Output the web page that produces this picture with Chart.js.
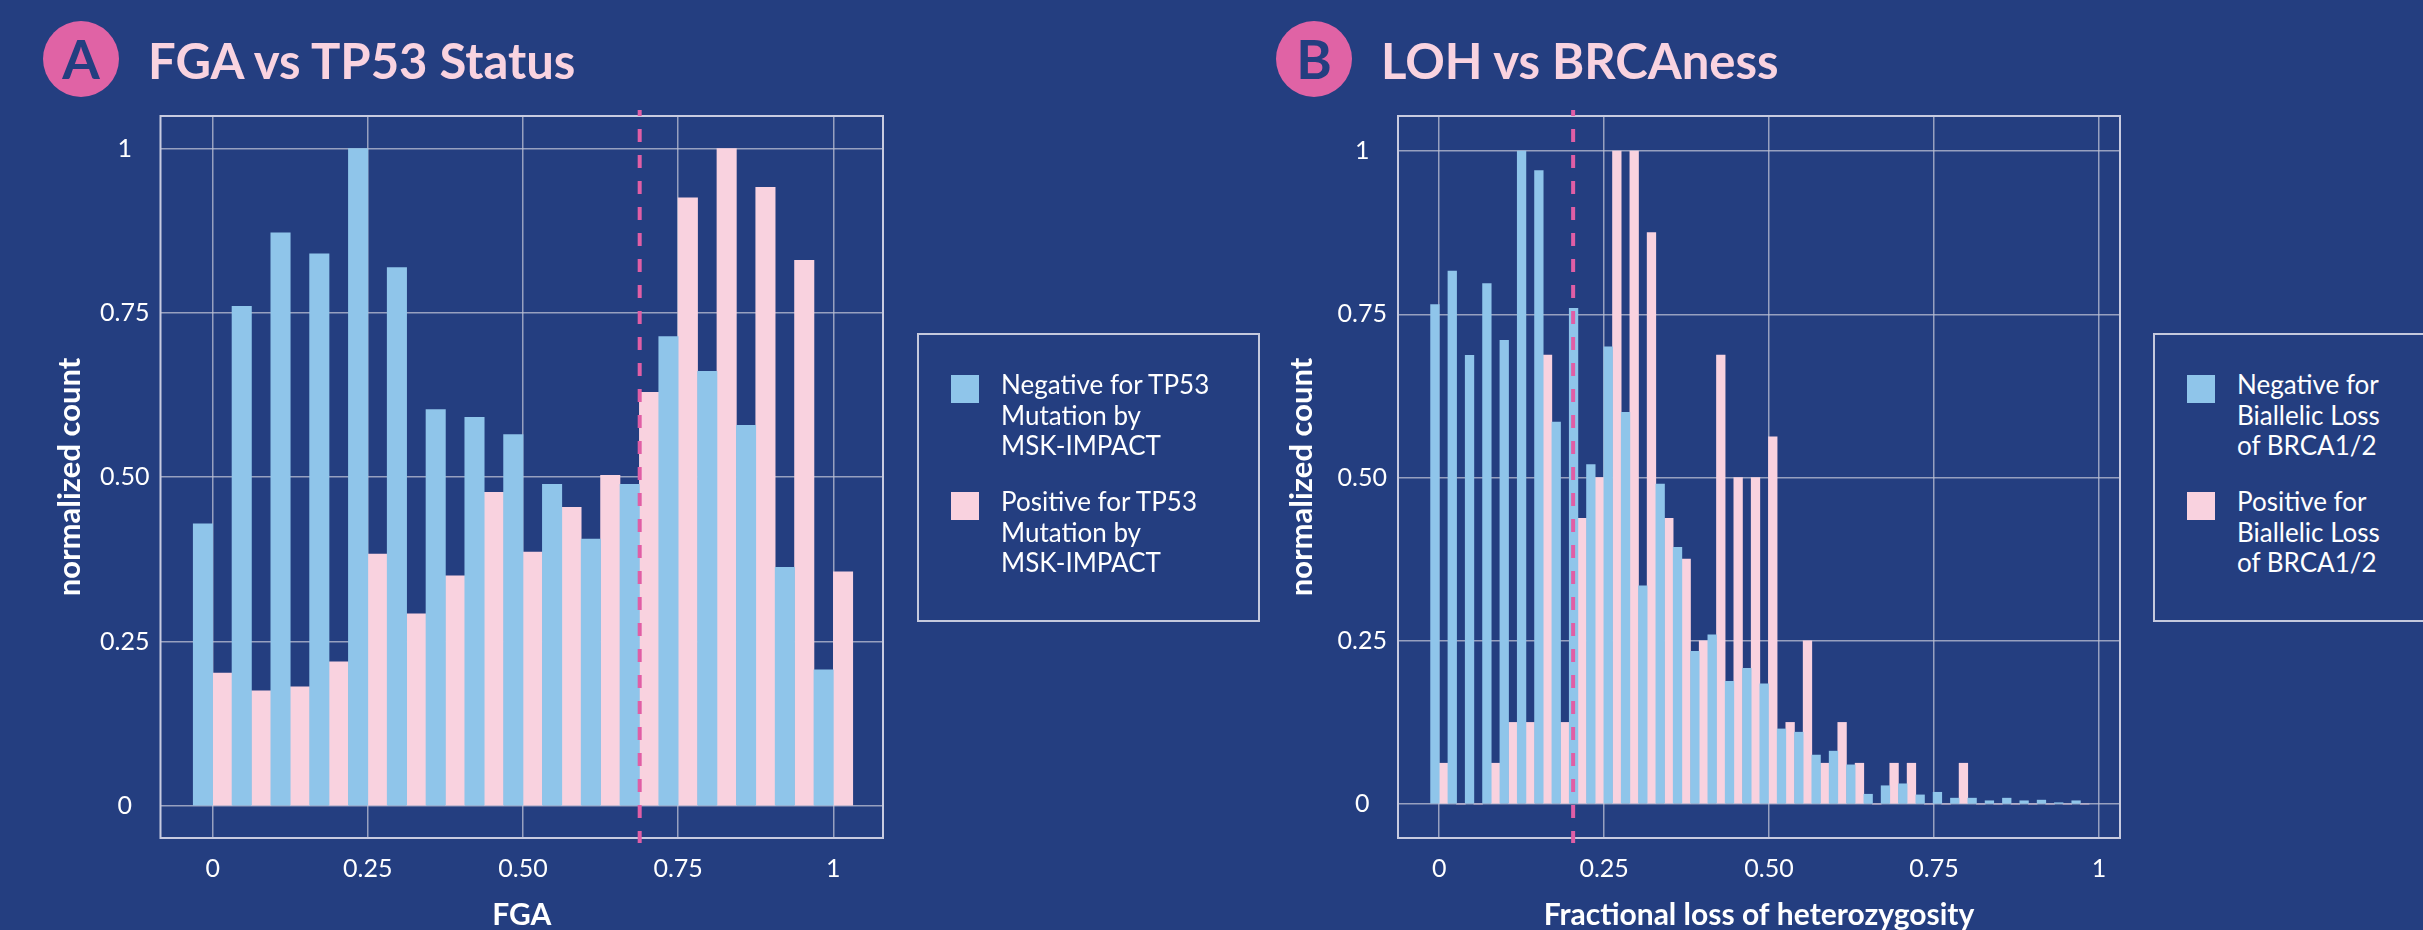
<!DOCTYPE html>
<html>
<head>
<meta charset="utf-8">
<title>FGA vs TP53 / LOH vs BRCAness</title>
<script src="https://cdn.jsdelivr.net/npm/chart.js@4.4.0/dist/chart.umd.min.js"></script>
<style>
  html, body { margin: 0; padding: 0; }
  body {
    width: 2423px; height: 930px; overflow: hidden; position: relative;
    background: #243e80; font-family: Lato, 'Open Sans', sans-serif;
  }
  .badge {
    position: absolute; top: 21px; width: 76px; height: 76px; border-radius: 50%;
    background: #e063a5; color: #243e80; font: 700 54px Lato, sans-serif;
    display: flex; align-items: center; justify-content: center; line-height: 1;
  }
  .panel-title {
    position: absolute; top: 36px; color: #f9d3e0; white-space: nowrap;
    font: 700 49px Lato, sans-serif; line-height: 48px;
  }
  .chart-box { position: absolute; top: 0; height: 930px; }
  .legend {
    position: absolute; top: 333px; height: 289px; box-sizing: border-box;
    border: 2px solid #c5c9dd;
  }
  .legend-swatch { position: absolute; width: 28px; height: 28px; }
  .legend-text {
    position: absolute; color: #fff; font: 400 26px Lato, sans-serif;
    line-height: 30.5px; white-space: nowrap;
  }
</style>
</head>
<body>

<div class="badge" style="left:43px">A</div>
<div class="panel-title" style="left:148px">FGA vs TP53 Status</div>
<div class="badge" style="left:1276px">B</div>
<div class="panel-title" style="left:1381px">LOH vs BRCAness</div>

<div class="chart-box" style="left:0;width:900px"><canvas id="chart-fga" width="900" height="930"></canvas></div>
<div class="chart-box" style="left:1230px;width:910px"><canvas id="chart-loh" width="910" height="930"></canvas></div>

<div class="legend" id="legend-fga" style="left:917px;width:343px"></div>
<div class="legend" id="legend-loh" style="left:2153px;width:320px"></div>

<script>
// ── Данные панели A: FGA vs статус TP53 ───────────────────────────
const fgaBins = [0, 0.0625, 0.125, 0.1875, 0.25, 0.3125, 0.375, 0.4375, 0.5,
                 0.5625, 0.625, 0.6875, 0.75, 0.8125, 0.875, 0.9375, 1];
const fgaNegative = [0.429, 0.760, 0.872, 0.840, 1.0, 0.819, 0.603, 0.591, 0.565,
                     0.489, 0.406, 0.489, 0.714, 0.661, 0.579, 0.363, 0.207];
const fgaPositive = [0.202, 0.175, 0.181, 0.219, 0.383, 0.292, 0.350, 0.477, 0.386,
                     0.454, 0.503, 0.629, 0.925, 1.0, 0.941, 0.830, 0.356];
const fgaThreshold = 0.688;
const fgaLabels = [
  ['Negative for TP53', 'Mutation by', 'MSK-IMPACT'],
  ['Positive for TP53', 'Mutation by', 'MSK-IMPACT'],
];

// ── Данные панели B: LOH vs BRCAness ─────────────────────────────
const lohBins = [0, 0.0263, 0.0525, 0.0788, 0.1051, 0.1314, 0.1576, 0.1839, 0.2102, 0.2364,
                 0.2627, 0.2890, 0.3152, 0.3415, 0.3678, 0.3941, 0.4203, 0.4466, 0.4729, 0.4991,
                 0.5254, 0.5517, 0.5779, 0.6042, 0.6305, 0.6568, 0.6830, 0.7093, 0.7356, 0.7618,
                 0.7881, 0.8144, 0.8406, 0.8669, 0.8932, 0.9195, 0.9457, 0.9720];
const lohNegative = [0.765, 0.816, 0.687, 0.797, 0.710, 1.0, 0.970, 0.585, 0.759, 0.520,
                     0.700, 0.600, 0.334, 0.490, 0.393, 0.234, 0.259, 0.188, 0.208, 0.184,
                     0.115, 0.110, 0.075, 0.081, 0.060, 0.015, 0.028, 0.031, 0.014, 0.018,
                     0.009, 0.009, 0.005, 0.009, 0.005, 0.006, 0.002, 0.005];
const lohPositive = [0.0625, 0, 0, 0.0625, 0.125, 0.125, 0.6875, 0.125, 0.4375, 0.5,
                     1.0, 1.0, 0.875, 0.4375, 0.375, 0.25, 0.6875, 0.5, 0.5, 0.5625,
                     0.125, 0.25, 0.0625, 0.125, 0.0625, 0, 0.0625, 0.0625, 0, 0,
                     0.0625, 0, 0, 0, 0, 0, 0, 0];
const lohThreshold = 0.203;
const lohLabels = [
  ['Negative for', 'Biallelic Loss', 'of BRCA1/2'],
  ['Positive for', 'Biallelic Loss', 'of BRCA1/2'],
];

// ── Общие деления осей ───────────────────────────────────────────
const xTickValues = [0, 0.25, 0.5, 0.75, 1];
const xTickLabels = ['0', '0.25', '0.50', '0.75', '1'];
const yTickValues = [0, 0.25, 0.5, 0.75, 1];
const yTickLabels = ['0', '0.25', '0.50', '0.75', '1'];

const COLOR_NEG  = '#8fc5ea';
const COLOR_POS  = '#f9d2df';
const COLOR_DASH = '#e05ea5';
const GRID_COLOR = 'rgba(190,194,212,0.75)';

Chart.defaults.font.family = 'Lato, sans-serif';

// ── Плагин: рамка области графика и пунктир порога ───────────────
const panelDecor = {
  id: 'panelDecor',
  beforeDatasetsDraw(chart) {
    const { ctx, chartArea: a } = chart;
    ctx.save();
    ctx.strokeStyle = '#c8cbe0';
    ctx.lineWidth = 2;
    ctx.strokeRect(a.left, a.top, a.right - a.left, a.bottom - a.top);
    ctx.restore();
  },
  afterDatasetsDraw(chart, args, opts) {
    const { ctx, chartArea: a } = chart;
    const x = chart.scales.x.getPixelForValue(opts.value);
    ctx.save();
    ctx.strokeStyle = COLOR_DASH;
    ctx.lineWidth = 4;
    ctx.setLineDash([13, 13]);
    ctx.lineDashOffset = 7;
    ctx.beginPath();
    ctx.moveTo(x, a.top - 6);
    ctx.lineTo(x, a.bottom + 5);
    ctx.stroke();
    ctx.restore();
  },
};

// ── Построить одну панель ────────────────────────────────────────
function buildPanel(canvasId, cfg) {
  return new Chart(document.getElementById(canvasId), {
    type: 'bar',
    data: {
      datasets: [
        {
          label: cfg.labels[0].join(' '),
          data: cfg.bins.map((x, i) => ({ x, y: cfg.neg[i] })),
          backgroundColor: COLOR_NEG,
        },
        {
          label: cfg.labels[1].join(' '),
          data: cfg.bins.map((x, i) => ({ x, y: cfg.pos[i] })),
          backgroundColor: COLOR_POS,
        },
      ],
    },
    plugins: [panelDecor],
    options: {
      responsive: false,
      animation: false,
      layout: { padding: { top: 116, right: cfg.padRight, bottom: 0, left: 0 } },
      datasets: { bar: { categoryPercentage: 1, barPercentage: 1, borderWidth: 0 } },
      plugins: {
        legend: { display: false },
        tooltip: { enabled: false },
        panelDecor: { value: cfg.threshold },
      },
      scales: {
        x: {
          type: 'linear',
          offset: false,
          min: cfg.xMin,
          max: cfg.xMax,
          afterBuildTicks: s => { s.ticks = xTickValues.map(v => ({ value: v })); },
          afterFit: s => { s.height = 92; },
          ticks: {
            callback: (v, i) => xTickLabels[i],
            color: '#ffffff',
            font: { size: 25 },
            padding: 16,
            maxRotation: 0,
          },
          grid: { color: GRID_COLOR, lineWidth: 1.5, drawTicks: false, offset: false },
          border: { display: false },
          title: {
            display: true,
            text: cfg.xTitle,
            color: '#ffffff',
            font: { size: 30, weight: 'bold', lineHeight: 1 },
            padding: { top: 0, bottom: 0 },
          },
        },
        y: {
          min: cfg.yMin,
          max: cfg.yMax,
          afterBuildTicks: s => { s.ticks = yTickValues.map(v => ({ value: v })); },
          afterFit: s => { s.width = cfg.yWidth; },
          ticks: {
            callback: (v, i) => yTickLabels[i],
            color: '#ffffff',
            font: { size: 25 },
            padding: 11,
            crossAlign: 'center',
          },
          grid: { color: GRID_COLOR, lineWidth: 1.5, drawTicks: false },
          border: { display: false },
          title: {
            display: true,
            text: 'normalized count',
            color: '#ffffff',
            font: { size: 31, weight: 'bold', lineHeight: 1 },
            padding: { top: cfg.yTitlePad, bottom: 0 },
          },
        },
      },
    },
  });
}

// ── HTML-легенда в рамке ─────────────────────────────────────────
function buildLegend(boxId, labels) {
  const box = document.getElementById(boxId);
  const colors = [COLOR_NEG, COLOR_POS];
  const tops = [40, 157];
  labels.forEach((lines, i) => {
    const sw = document.createElement('div');
    sw.className = 'legend-swatch';
    sw.style.cssText = `left:32px;top:${tops[i]}px;background:${colors[i]}`;
    box.appendChild(sw);
    const tx = document.createElement('div');
    tx.className = 'legend-text';
    tx.style.cssText = `left:82px;top:${tops[i] - 6}px`;
    tx.innerHTML = lines.join('<br>');
    box.appendChild(tx);
  });
}

buildPanel('chart-fga', {
  bins: fgaBins, neg: fgaNegative, pos: fgaPositive, labels: fgaLabels,
  threshold: fgaThreshold, xTitle: 'FGA',
  xMin: -0.084, xMax: 1.08, yMin: -0.049, yMax: 1.0496,
  yWidth: 160.5, padRight: 17, yTitlePad: 54.5,
});

buildPanel('chart-loh', {
  bins: lohBins, neg: lohNegative, pos: lohPositive, labels: lohLabels,
  threshold: lohThreshold, xTitle: 'Fractional loss of heterozygosity',
  xMin: -0.0625, xMax: 1.032, yMin: -0.052, yMax: 1.0536,
  yWidth: 168, padRight: 20, yTitlePad: 56.5,
});

buildLegend('legend-fga', fgaLabels);
buildLegend('legend-loh', lohLabels);
</script>
</body>
</html>
